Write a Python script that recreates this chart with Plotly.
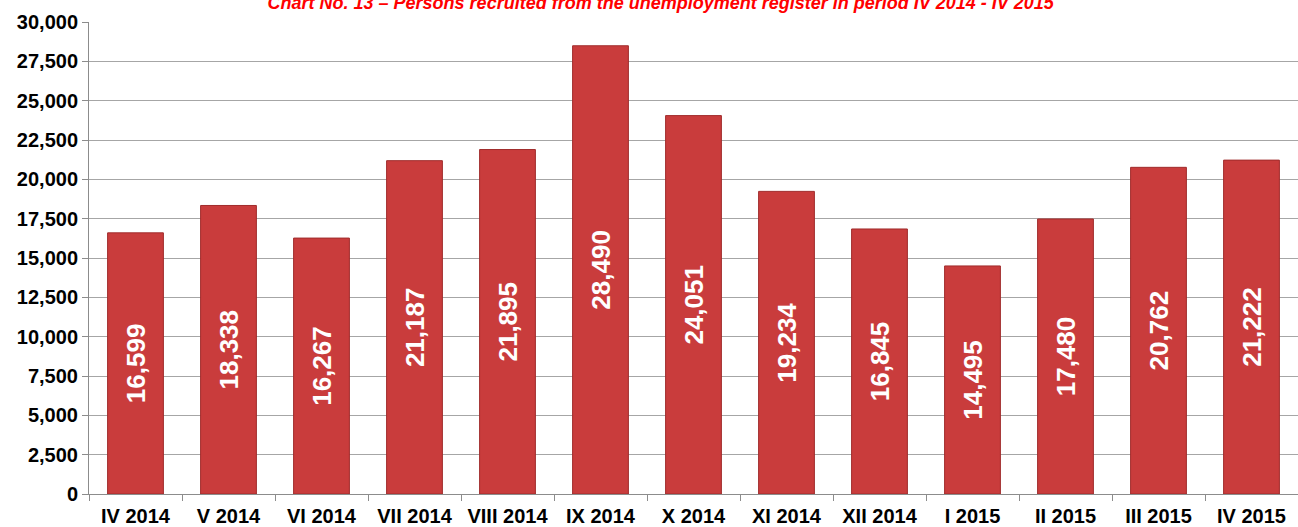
import plotly.graph_objects as go

categories = ["IV 2014", "V 2014", "VI 2014", "VII 2014", "VIII 2014", "IX 2014", "X 2014",
              "XI 2014", "XII 2014", "I 2015", "II 2015", "III 2015", "IV 2015"]
values = [16599, 18338, 16267, 21187, 21895, 28490, 24051, 19234, 16845, 14495, 17480, 20762, 21222]
y_ticks = list(range(0, 30001, 2500))
title_text = "Chart No. 13 \u2013 Persons recruited from the unemployment register in period IV 2014 - IV 2015"

fig = go.Figure()
fig.add_trace(go.Bar(
    x=categories, y=values,
    width=0.6,
    marker=dict(color="#c93c3c", line=dict(color="#a02c2c", width=1)),
    text=[f"{v:,}" for v in values],
    textposition="inside",
    insidetextanchor="middle",
    textangle=-90,
    textfont=dict(family="Arial, Liberation Sans", size=26, color="white", weight="bold"),
    cliponaxis=False,
))

fig.update_layout(
    width=1298, height=527,
    margin=dict(l=89, r=0, t=22, b=33),
    paper_bgcolor="white", plot_bgcolor="white",
    showlegend=False,
    title=dict(text=f"<b><i>{title_text}</i></b>", x=0.509, xanchor="center",
               y=0.995, yref="container", yanchor="middle",
               font=dict(family="Arial, Liberation Sans", size=18, color="#ff0000")),
    uniformtext=dict(minsize=8, mode="show"),
)
fig.update_yaxes(
    range=[0, 30000], tickvals=y_ticks, tickformat=",", automargin=False,
    showgrid=True, gridcolor="#a6a6a6", gridwidth=1,
    showline=True, linecolor="#8c8c8c", linewidth=1,
    ticks="outside", ticklen=6, tickcolor="#8c8c8c",
    tickfont=dict(family="Arial, Liberation Sans", size=20, color="black", weight="bold"),
    zeroline=False,
)
fig.update_xaxes(
    automargin=False,
    showline=True, linecolor="#8c8c8c", linewidth=1,
    ticks="outside", ticklen=6, tickcolor="#8c8c8c", tickson="boundaries",
    ticklabelstandoff=4,
    tickfont=dict(family="Arial, Liberation Sans", size=20, color="black", weight="bold"),
)

fig.write_html("out.html", config={"displayModeBar": False},
               post_script="document.body.style.margin='0';document.body.style.overflow='hidden';")
